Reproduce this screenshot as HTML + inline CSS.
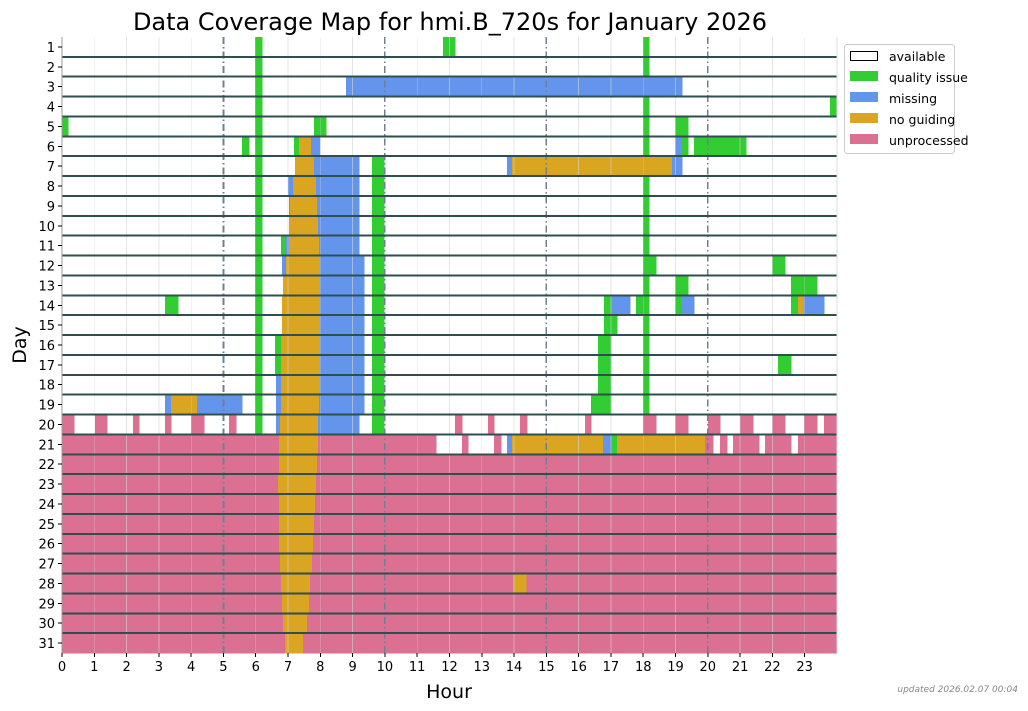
<!DOCTYPE html>
<html><head><meta charset="utf-8"><style>
body{margin:0;background:#fff;}
svg{display:block;font-family:"DejaVu Sans","Liberation Sans",sans-serif;}
</style></head><body>
<svg id="s" width="1028" height="711" xmlns="http://www.w3.org/2000/svg" shape-rendering="crispEdges">
<g id="bars"></g><g id="grid"></g><g id="sep"></g>
<line x1="62" y1="37" x2="62" y2="653" stroke="#999" stroke-width="1"/>
<line x1="837" y1="37" x2="837" y2="653" stroke="#ddd" stroke-width="1"/>
<g id="ticks" font-size="13" fill="#000"></g>
<text x="450" y="30" font-size="24" text-anchor="middle">Data Coverage Map for hmi.B_720s for January 2026</text>
<text x="449" y="698" font-size="19" text-anchor="middle">Hour</text>
<text transform="translate(26,345) rotate(-90)" font-size="19" text-anchor="middle">Day</text>
<text x="1018" y="692" font-size="9" fill="#888" font-style="italic" text-anchor="end">updated 2026.02.07 00:04</text>
<g>
<rect x="844.5" y="44.5" width="110" height="109" rx="3" fill="#fff" stroke="#ccc"/>
<rect x="850.5" y="51.5" width="27" height="9" fill="#fff" stroke="#000"/>
<rect x="850" y="71" width="28" height="10" fill="#32cd32"/>
<rect x="850" y="92" width="28" height="10" fill="#6495ed"/>
<rect x="850" y="113" width="28" height="10" fill="#daa520"/>
<rect x="850" y="134" width="28" height="10" fill="#db7093"/>
<g font-size="12.5"><text x="889" y="61">available</text><text x="889" y="82">quality issue</text><text x="889" y="103">missing</text><text x="889" y="124">no guiding</text><text x="889" y="145">unprocessed</text></g>
</g>
</svg>
<script>
var G='#32cd32',B='#6495ed',Y='#daa520',P='#db7093';
var D={
1:[[255,262,G],[443,455,G],[643,649,G]],
2:[[255,262,G],[643,649,G]],
3:[[255,262,G],[346,682,B]],
4:[[255,262,G],[643,649,G],[830,837,G]],
5:[[62,68,G],[255,262,G],[314,326,G],[643,649,G],[675,688,G]],
6:[[242,249,G],[255,262,G],[294,299,G],[299,311,Y],[311,320,B],[643,649,G],[675,682,B],[682,688,G],[694,746,G]],
7:[[255,262,G],[295,314,Y],[314,359,B],[372,384,G],[507,512,B],[512,672,Y],[672,682,B]],
8:[[255,262,G],[288,293,B],[293,316,Y],[316,359,B],[372,384,G],[643,649,G]],
9:[[255,262,G],[289,290,B],[290,317,Y],[317,359,B],[372,384,G],[643,649,G]],
10:[[255,262,G],[289,318,Y],[318,359,B],[372,384,G],[643,649,G]],
11:[[255,262,G],[281,286,G],[286,289,B],[289,319,Y],[319,359,B],[372,384,G],[643,649,G]],
12:[[255,262,G],[282,286,B],[286,320,Y],[320,364,B],[372,384,G],[643,656,G],[772,785,G]],
13:[[255,262,G],[283,320,Y],[320,364,B],[372,384,G],[643,649,G],[675,688,G],[791,817,G]],
14:[[165,178,G],[255,262,G],[282,320,Y],[320,364,B],[372,384,G],[604,611,G],[611,630,B],[636,649,G],[675,682,G],[682,694,B],[791,798,G],[798,804,Y],[804,824,B]],
15:[[255,262,G],[282,320,Y],[320,364,B],[372,384,G],[604,617,G],[643,649,G]],
16:[[255,262,G],[275,281,G],[281,320,Y],[320,364,B],[372,384,G],[598,611,G],[643,649,G]],
17:[[255,262,G],[275,281,G],[281,320,Y],[320,364,B],[372,384,G],[598,611,G],[643,649,G],[778,791,G]],
18:[[255,262,G],[276,281,B],[281,320,Y],[320,364,B],[372,384,G],[598,611,G],[643,649,G]],
19:[[165,171,B],[171,197,Y],[197,242,B],[255,262,G],[276,281,B],[281,319,Y],[319,364,B],[372,384,G],[591,611,G],[643,649,G]],
20:[[62,74,P],[95,107,P],[133,139,P],[165,171,P],[191,204,P],[229,236,P],[255,262,G],[276,280,B],[280,318,Y],[318,359,B],[372,384,G],[455,462,P],[488,494,P],[520,527,P],[585,591,P],[643,656,P],[675,688,P],[708,720,P],[740,753,P],[772,785,P],[804,817,P],[824,837,P]],
21:[[62,279,P],[279,318,Y],[318,436,P],[462,468,P],[494,501,P],[507,512,B],[512,603,Y],[603,611,B],[611,617,G],[617,705,Y],[705,713,P],[720,727,P],[733,759,P],[765,791,P],[798,837,P]]
};
var gold={22:[279,317],23:[278,316],24:[279,315],25:[279,314],26:[279,313],27:[280,312],28:[281,310],29:[282,309],30:[283,307],31:[285,303]};
for(var d=22;d<=31;d++){var g=gold[d];D[d]=[[62,g[0],P],[g[0],g[1],Y],[g[1],837,P]];if(d==28)D[d].push([513,526,Y]);}
var NS='http://www.w3.org/2000/svg',rh=(653-37)/31;
function el(p,t,a){var e=document.createElementNS(NS,t);for(var k in a)e.setAttribute(k,a[k]);p.appendChild(e);return e;}
var bars=document.getElementById('bars'),grid=document.getElementById('grid'),sep=document.getElementById('sep'),tk=document.getElementById('ticks');
for(var d=1;d<=31;d++){var y=37+(d-1)*rh;D[d].forEach(function(s){el(bars,'rect',{x:s[0],y:y,width:s[1]-s[0]+0.5,height:rh+0.5,fill:s[2]});});
 var t=el(tk,'text',{x:55,y:y+rh/2+5,'text-anchor':'end'});t.textContent=d;
 el(tk,'line',{x1:58,x2:62,y1:y+rh/2,y2:y+rh/2,stroke:'#000'});
 if(d<31)el(sep,'line',{x1:62,x2:837,y1:y+rh,y2:y+rh,stroke:'#2f4f4f','stroke-width':2});}
for(var h=0;h<24;h++){var x=62+h*32.29;
 if(h>0){if(h%5==0)el(grid,'line',{x1:x,x2:x,y1:37,y2:653,stroke:'#708090','stroke-width':1.6,'stroke-dasharray':'7,3,1.5,3'});
 else el(grid,'line',{x1:x,x2:x,y1:37,y2:653,stroke:'#d3d3d3','stroke-width':0.8,opacity:0.6});}
 el(tk,'line',{x1:x,x2:x,y1:653,y2:657,stroke:'#000'});
 var t=el(tk,'text',{x:x,y:671,'text-anchor':'middle'});t.textContent=h;}
</script>
</body></html>
